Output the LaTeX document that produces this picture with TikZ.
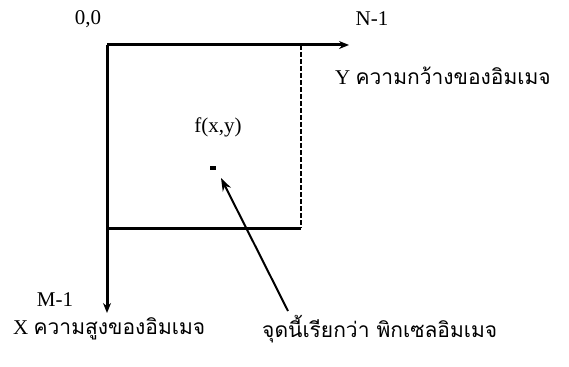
\documentclass[tikz,border=0pt]{standalone}
\usepackage{fontspec}
\setmainfont{Liberation Serif}
\newfontfamily\thaifont[Script=Thai]{Loma}
\usetikzlibrary{arrows.meta}
\begin{document}
\begin{tikzpicture}[x=1pt,y=-1pt,
  axis/.style={line width=3pt,-{Stealth[length=10pt,width=8pt]}},
  edge/.style={line width=3pt},
  thin dash/.style={line width=1.5pt,dash pattern=on 5pt off 2pt},
  lbl/.style={font=\fontsize{21}{24}\selectfont,inner sep=0pt},
  thai/.style={font=\fontsize{21}{24}\selectfont,inner sep=0pt,anchor=west}]
\useasboundingbox (0,0) rectangle (569,366);
\coordinate (O) at (107,45);
\coordinate (Nend) at (349,45);
\coordinate (Mend) at (107,313);
\coordinate (BR) at (301,228);
\coordinate (BL) at (107,228);
\coordinate (TR) at (301,45);
\draw[axis] (O) -- (Nend);
\draw[axis] (O) -- (Mend);
\draw[edge] (BL) -- (BR);
\draw[thin dash] (TR) -- (BR);
\node[lbl] (orig) at (88,19) {0,0};
\node[lbl] (nlab) at (372,19) {N-1};
\node[lbl] (mlab) at (55,300) {M-1};
\node[thai] (ylab) at (335,76) {Y {\thaifont ความกว้างของอิมเมจ}};
\node[thai] (xlab) at (13,329) {X {\thaifont ความสูงของอิมเมจ}};
\node[thai] (plab) at (262,329) {\thaifont จุดนี้เรียกว่า พิกเซลอิมเมจ};
\node[lbl] (fxy) at (218,127) {f(x,y)};
\node[fill=black,minimum width=6pt,minimum height=3.5pt,inner sep=0pt] (pix) at (213,168) {};
\coordinate (tail) at (288,311);
\draw[line width=2pt,-{Stealth[length=13pt,width=9pt]}] (tail) -- (221,178);
\end{tikzpicture}
\end{document}
